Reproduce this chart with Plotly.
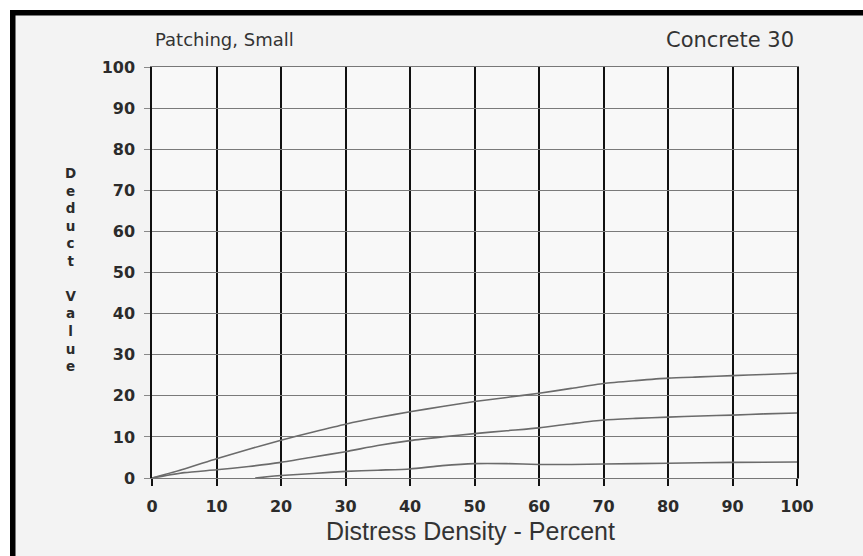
import plotly.graph_objects as go

# Deduct value curves for small patching on concrete pavement
density = [0, 5, 10, 15, 20, 25, 30, 35, 40, 45, 50, 55, 60, 65, 70, 75, 80, 85, 90, 95, 100]
high = [0, 2.2, 4.7, 7.0, 9.2, 11.2, 13.1, 14.7, 16.1, 17.4, 18.6, 19.6, 20.6, 21.8, 23.0,
        23.7, 24.3, 24.6, 24.9, 25.2, 25.5]
medium = [0, 1.3, 2.0, 2.8, 3.8, 5.1, 6.4, 7.9, 9.1, 10.0, 10.8, 11.5, 12.2, 13.2, 14.1,
          14.5, 14.8, 15.1, 15.3, 15.6, 15.8]
low_density = [16, 20, 25, 30, 35, 40, 45, 50, 55, 60, 65, 70, 80, 90, 100]
low = [0, 0.6, 1.1, 1.6, 1.9, 2.2, 3.0, 3.5, 3.5, 3.3, 3.3, 3.4, 3.6, 3.8, 3.9]

severity_labels = ["H", "M", "L"]
severity_label_y = [27.2, 16.5, 5.8]

tick_values = list(range(0, 101, 10))
tick_text = [str(v) for v in tick_values]

W, H = 863, 556
L_PX, R_PX, T_PX, B_PX = 152, 797, 67, 478


def px_x(px):
    return (px - L_PX) / (R_PX - L_PX)


def px_y(py):
    return (B_PX - py) / (B_PX - T_PX)


curve_style = dict(color="#6b6b6b", width=1.6, shape="spline", smoothing=0.6)

fig = go.Figure()
fig.add_trace(go.Scatter(x=density, y=high, mode="lines", line=curve_style, hoverinfo="skip"))
fig.add_trace(go.Scatter(x=density, y=medium, mode="lines", line=curve_style, hoverinfo="skip"))
fig.add_trace(go.Scatter(x=low_density, y=low, mode="lines", line=curve_style, hoverinfo="skip"))

tick_font = dict(family="DejaVu Sans", size=16, color="#2b2b2b", weight="bold")

fig.update_xaxes(
    range=[0, 100], tickvals=tick_values, ticktext=tick_text,
    showgrid=True, gridcolor="#111111", gridwidth=1.5,
    showline=True, linecolor="#777777", linewidth=1, mirror=True,
    ticks="outside", ticklen=7, tickwidth=1.5, tickcolor="#111111",
    ticklabelstandoff=7, tickfont=tick_font, zeroline=False,
)
fig.update_yaxes(
    range=[0, 100], tickvals=tick_values, ticktext=tick_text,
    showgrid=True, gridcolor="#7a7a7a", gridwidth=1,
    showline=True, linecolor="#111111", linewidth=1.5, mirror=True,
    ticks="outside", ticklen=6, tickwidth=1, tickcolor="#888888",
    ticklabelstandoff=6, tickfont=tick_font, zeroline=False,
)

# vertical axis title, one letter per line with a blank line between the words
axis_word_1, axis_word_2 = "Deduct", "Value"
stacked_title = "<br>".join(axis_word_1) + "<br><br>" + "<br>".join(axis_word_2)

annotations = [
    dict(text="Patching, Small", x=px_x(153), y=px_y(40), xanchor="left", yanchor="middle",
         font=dict(family="DejaVu Sans", size=18, color="#333333")),
    dict(text="Concrete 30", x=px_x(796), y=px_y(40), xanchor="right", yanchor="middle",
         font=dict(family="DejaVu Sans", size=21, color="#333333")),
    dict(text="Distress Density - Percent", x=px_x(470), y=px_y(531), xanchor="center",
         yanchor="middle", font=dict(family="Liberation Sans", size=25, color="#333333")),
    dict(text=stacked_title, x=px_x(70), y=px_y(164), xanchor="center", yanchor="top",
         align="center", borderpad=0,
         font=dict(family="DejaVu Sans", size=13.5, color="#2b2b2b", weight="bold")),
]

for lab, yv in zip(severity_labels, severity_label_y):
    annotations.append(dict(text=lab, x=104, y=yv, xref="x", yref="y", xanchor="center",
                            yanchor="middle",
                            font=dict(family="Liberation Sans", size=18, color="#222222",
                                      weight="bold")))

for a in annotations:
    a.setdefault("xref", "paper")
    a.setdefault("yref", "paper")
    a["showarrow"] = False

# page frame: white outer strips with a heavy black edge on the left and top
shapes = [
    dict(type="rect", x0=px_x(0), x1=px_x(10), y0=px_y(0), y1=px_y(H), fillcolor="white", line_width=0),
    dict(type="rect", x0=px_x(0), x1=px_x(W), y0=px_y(0), y1=px_y(10), fillcolor="white", line_width=0),
    dict(type="rect", x0=px_x(10), x1=px_x(15.5), y0=px_y(10), y1=px_y(H), fillcolor="black", line_width=0),
    dict(type="rect", x0=px_x(10), x1=px_x(W), y0=px_y(10), y1=px_y(15.5), fillcolor="black", line_width=0),
]
for s in shapes:
    s["xref"] = "paper"
    s["yref"] = "paper"
    s["layer"] = "above"

fig.update_layout(
    width=W, height=H,
    margin=dict(l=L_PX, r=W - R_PX, t=T_PX, b=H - B_PX),
    paper_bgcolor="#f3f3f3", plot_bgcolor="#f8f8f8",
    showlegend=False,
    annotations=annotations,
    shapes=shapes,
)

fig.write_html("out.html")
